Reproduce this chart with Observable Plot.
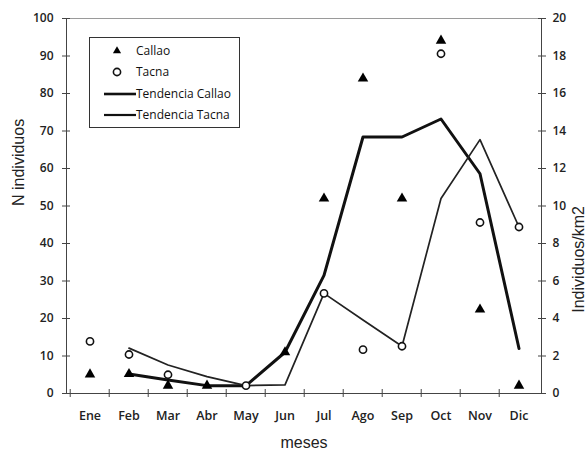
<!DOCTYPE html>
<html><head><meta charset="utf-8">
<script src="https://cdn.jsdelivr.net/npm/d3@7"></script>
<script src="https://cdn.jsdelivr.net/npm/@observablehq/plot@0.6"></script>
<style>
body{margin:0;background:#fff;}
#wrap{position:relative;width:588px;height:457px;}
#legend{position:absolute;left:89px;top:37px;width:149px;height:89px;border:1px solid #333;background:#fff;}
#legend svg{display:block;}
</style></head><body><div id="wrap"></div>
<script>
const months = ["Ene","Feb","Mar","Abr","May","Jun","Jul","Ago","Sep","Oct","Nov","Dic"];
const callao = [5.1, 5.2, 2.1, 2.1, null, 11, 52, 84, 52, 94.1, 22.4, 2.1];
const tacna = [13.9, 10.4, 5, null, 2.1, null, 26.7, 11.7, 12.6, 90.6, 45.6, 44.4];
const trendCallao = [null, 5.2, 3.6, 2.1, 2.1, 11, 31.5, 68.4, 68.4, 73.2, 58.6, 12];
const trendTacna = [null, 12.1, 7.6, 4.5, 2.1, 2.3, 26.7, 19.6, 12.6, 52, 67.7, 44.4];
const leftTicks = [0, 10, 20, 30, 40, 50, 60, 70, 80, 90, 100];
const rightFactor = 5; // right axis: Individuos/km2 = N / 5
const seriesNames = ["Callao", "Tacna", "Tendencia Callao", "Tendencia Tacna"];

const rows = arr => months.map((m, i) => ({m, v: arr[i]})).filter(d => d.v != null);
const W = 588, H = 457, mL = 66, mR = 47, mT = 18, mB = 64;
const bw = (W - mL - mR) / months.length;

const chart = Plot.plot({
  width: W, height: H,
  marginLeft: mL, marginRight: mR, marginTop: mT, marginBottom: mB,
  style: {fontFamily: "Open Sans", fontSize: "12px", color: "#222", background: "#fff"},
  x: {type: "band", domain: months, padding: 0, axis: null},
  y: {domain: [0, 100], axis: null},
  marks: [
    Plot.frame({stroke: "#444"}),
    Plot.ruleY([100], {stroke: "#9a9a9a"}),
    // left axis
    Plot.axisY({anchor: "left", ticks: leftTicks, tickSize: 8, dx: 4, tickFormat: () => "", label: null, stroke: "#444"}),
    Plot.axisY({anchor: "left", ticks: leftTicks, tickSize: 0, tickPadding: 13, label: null, fill: "#222", fontWeight: 600}),
    // right axis
    Plot.axisY({anchor: "right", ticks: leftTicks, tickSize: 8, dx: -4, tickFormat: () => "", label: null, stroke: "#444"}),
    Plot.axisY({anchor: "right", ticks: leftTicks, tickSize: 0, tickPadding: 11, tickFormat: d => d / rightFactor, label: null, fill: "#222", fontWeight: 600}),
    // x axis
    Plot.axisX({anchor: "bottom", tickSize: 8, dy: -4, dx: -bw / 2, tickFormat: () => "", label: null, stroke: "#444"}),
    Plot.axisX({anchor: "bottom", tickSize: 0, tickPadding: 18, label: null, fill: "#222", fontWeight: 600, fontSize: 12.5}),
    // titles
    Plot.text(["N individuos"], {frameAnchor: "left", dx: -48, rotate: -90, fontFamily: "Liberation Sans", fontSize: 16, fill: "#222"}),
    Plot.text(["Individuos/km2"], {frameAnchor: "right", dx: 37, rotate: -90, fontFamily: "Liberation Sans", fontSize: 16, fill: "#222"}),
    Plot.text(["meses"], {frameAnchor: "bottom", dy: 54, fontFamily: "Liberation Sans", fontSize: 16, fill: "#222"}),
    // trends
    Plot.line(rows(trendCallao), {x: "m", y: "v", stroke: "#111", strokeWidth: 3}),
    Plot.line(rows(trendTacna), {x: "m", y: "v", stroke: "#222", strokeWidth: 1.7}),
    // points
    Plot.dot(rows(tacna), {x: "m", y: "v", symbol: "circle", r: 3.6, stroke: "#111", strokeWidth: 1.6, fill: "#fff"}),
    Plot.dot(rows(callao), {x: "m", y: "v", symbol: "triangle", r: 3.9, fill: "#000", stroke: "none"})
  ]
});
const wrap = document.getElementById("wrap");
wrap.appendChild(chart);

// legend
const leg = document.createElement("div");
leg.id = "legend";
leg.innerHTML = `<svg width="149" height="89" style="font-family:'Open Sans';font-size:12px;font-weight:500;fill:#111">
  <path d="${d3.symbol(d3.symbolTriangle2, Math.PI * 3.9 * 3.9)()}" transform="translate(27,13)" fill="#000"/>
  <text x="46" y="13" dy="0.35em">${seriesNames[0]}</text>
  <circle cx="27" cy="34" r="3.6" fill="#fff" stroke="#111" stroke-width="1.6"/>
  <text x="46" y="34" dy="0.35em">${seriesNames[1]}</text>
  <line x1="14" x2="46" y1="56" y2="56" stroke="#111" stroke-width="2.6"/>
  <text x="46" y="56" dy="0.35em">${seriesNames[2]}</text>
  <line x1="14" x2="46" y1="77" y2="77" stroke="#111" stroke-width="2.2"/>
  <text x="46" y="77" dy="0.35em">${seriesNames[3]}</text>
</svg>`;
wrap.appendChild(leg);
</script>
</body></html>
